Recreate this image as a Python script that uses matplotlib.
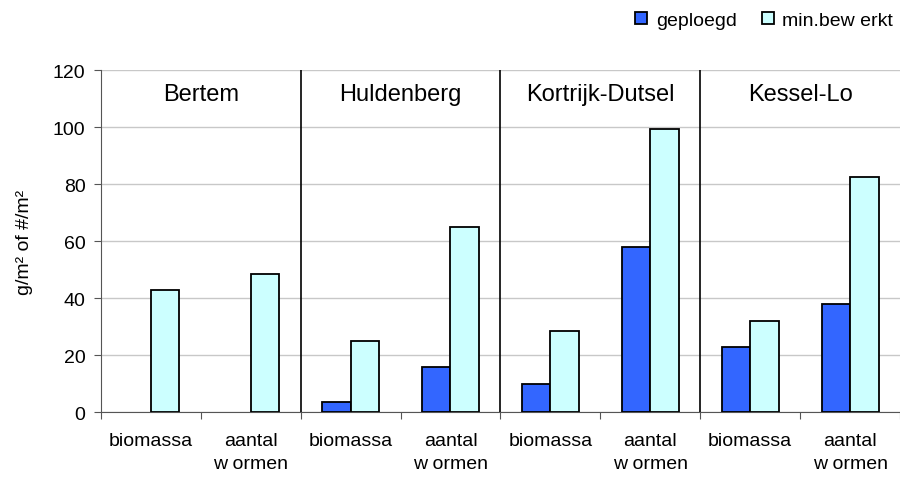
import numpy as np
import matplotlib.pyplot as plt

plt.rcParams['font.family'] = ['Liberation Sans', 'DejaVu Sans']

locaties = ["Bertem", "Huldenberg", "Kortrijk-Dutsel", "Kessel-Lo"]
categorieen = ["biomassa", "aantal\nw ormen"] * 4
geploegd = [0, 0, 3.5, 16, 10, 58, 23, 38]
min_bewerkt = [43, 48.5, 25, 65, 28.5, 99.3, 32, 82.5]

fig = plt.figure(figsize=(9, 4.81), dpi=100)
ax = fig.add_axes([0.112, 0.141, 0.888, 0.711])

x = np.arange(len(categorieen))
w = 0.285
geploegd_arr = np.array(geploegd, dtype=float)
zichtbaar = geploegd_arr > 0  # nulwaarden niet tekenen
ax.bar(x[zichtbaar] - w / 2, geploegd_arr[zichtbaar], w, color='#3366ff',
       edgecolor='black', linewidth=1.3, label='geploegd', zorder=3)
ax.bar(x + w / 2, min_bewerkt, w, color='#ccffff', edgecolor='black', linewidth=1.3,
       label='min.bew erkt', zorder=3)

ax.set_xlim(-0.5, len(categorieen) - 0.5)
ax.set_ylim(0, 120)
ax.set_yticks(range(0, 121, 20))
ax.yaxis.grid(True, color='#c8c8c8', linewidth=1, zorder=0)

# groepsscheiding en titels
for i, naam in enumerate(locaties):
    if i > 0:
        ax.axvline(2 * i - 0.5, color='black', linewidth=1.2, zorder=4)
    ax.text(2 * i + 0.5, 111.5, naam, ha='center', va='center', fontsize=17)

# ticks op de grenzen, labels in het midden
ax.set_xticks(np.arange(-0.5, len(categorieen)), minor=False)
ax.set_xticklabels([])
ax.set_xticks(x, minor=True)
ax.set_xticklabels(categorieen, minor=True, fontsize=14, linespacing=1.5)
ax.tick_params(axis='x', which='minor', length=0, pad=14)
ax.tick_params(axis='x', which='major', length=5, color='#555555')
ax.tick_params(axis='y', length=5, color='#555555', labelsize=14, pad=6)

for s in ['top', 'right']:
    ax.spines[s].set_visible(False)
ax.spines['left'].set_color('#555555')
ax.spines['bottom'].set_color('#555555')

ax.set_ylabel('g/m² of #/m²', fontsize=14, labelpad=14)

fig.legend(loc='upper right', bbox_to_anchor=(1.012, 1.01), ncol=2, frameon=False,
           fontsize=14, handlelength=0.6, handleheight=0.6, handletextpad=0.45,
           columnspacing=1.3)

fig.savefig('out.png', dpi=100)
